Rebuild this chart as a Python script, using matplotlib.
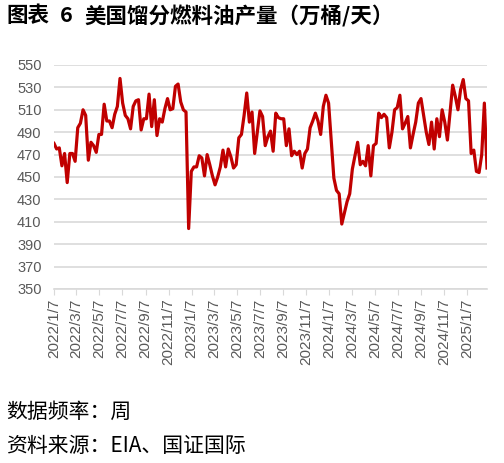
import matplotlib
matplotlib.use("Agg")
import matplotlib.pyplot as plt
import matplotlib.dates as mdates
import numpy as np
import pandas as pd

# weekly distillate fuel oil production, 10k barrels/day
start_date = "2022-01-07"
production = [
    480, 475, 476, 460, 471, 445, 471, 471, 464, 494,
    498, 510, 505, 465, 481, 478, 472, 488, 488, 515,
    500, 500, 494, 506, 513, 538, 516, 505, 502, 493,
    513, 518, 519, 492, 502, 502, 524, 495, 519, 487,
    502, 499, 511, 520, 510, 511, 531, 533, 517, 510,
    508, 404, 455, 459, 459, 469, 467, 451, 470, 461,
    451, 443, 450, 459, 474, 459, 475, 468, 458, 461,
    485, 488, 505, 525, 499, 508, 471, 490, 509, 504,
    478, 486, 491, 473, 507, 503, 502, 502, 478, 493,
    469, 473, 470, 473, 458, 471, 475, 494, 500, 507,
    500, 488, 513, 523, 516, 483, 449, 438, 435, 408,
    418, 428, 435, 457, 469, 481, 461, 464, 460, 478,
    451, 478, 480, 507, 503, 506, 503, 476, 490, 510,
    512, 523, 493, 498, 504, 476, 488, 499, 516, 520,
    505, 490, 479, 499, 475, 502, 486, 510, 499, 483,
    508, 532, 522, 510, 528, 537, 520, 518, 471, 474,
    455, 454, 470, 516, 458,
]
dates = pd.date_range(start_date, periods=len(production), freq="7D")

y_ticks = list(range(350, 551, 20))

title_parts = ["图表", "6", "美国馏分燃料油产量（万桶/天）"]
note1 = "数据频率：周"
note2 = "资料来源：EIA、国证国际"

plt.rcParams["font.family"] = ["Liberation Sans", "DejaVu Sans"]

W, H = 504, 463
fig = plt.figure(figsize=(W / 100, H / 100), dpi=100)
ax = fig.add_axes([54 / W, 1 - 289 / H, (487 - 54) / W, (289 - 65) / H])

ax.plot(dates, production, color="#C00000", linewidth=2.3, solid_joinstyle="round")

ax.set_ylim(350, 550)
ax.set_yticks(y_ticks)
ax.set_xlim(dates[0], dates[-1])
ax.xaxis.set_major_locator(mdates.MonthLocator(bymonth=range(1, 13, 2), bymonthday=7))
ax.xaxis.set_major_formatter(
    matplotlib.ticker.FuncFormatter(
        lambda v, p: (lambda d: f"{d.year}/{d.month}/{d.day}")(mdates.num2date(v))
    )
)
plt.setp(ax.get_xticklabels(), rotation=90)

ax.grid(axis="y", color="#d9d9d9", linewidth=1.2)
ax.set_axisbelow(True)
for s in ["top", "right", "left"]:
    ax.spines[s].set_visible(False)
ax.spines["bottom"].set_color("#d9d9d9")
ax.spines["bottom"].set_linewidth(1.2)
ax.tick_params(axis="y", length=0, labelsize=10.5, labelcolor="#595959", pad=9)
ax.tick_params(axis="x", length=4, color="#d9d9d9", labelsize=11, labelcolor="#595959", pad=3)

cjk = ["Noto Sans CJK SC", "DejaVu Sans"]
for x_px, part in zip([6, 60, 84], title_parts):
    fig.text(x_px / W, 1 - 16 / H, part, family=cjk, fontsize=15.5,
             fontweight="bold", va="center", ha="left")
fig.text(6 / W, 1 - 412 / H, note1, family=cjk, fontsize=15, va="center", ha="left")
fig.text(6 / W, 1 - 446 / H, note2, family=cjk, fontsize=15, va="center", ha="left")

fig.savefig("out.png", dpi=100)
